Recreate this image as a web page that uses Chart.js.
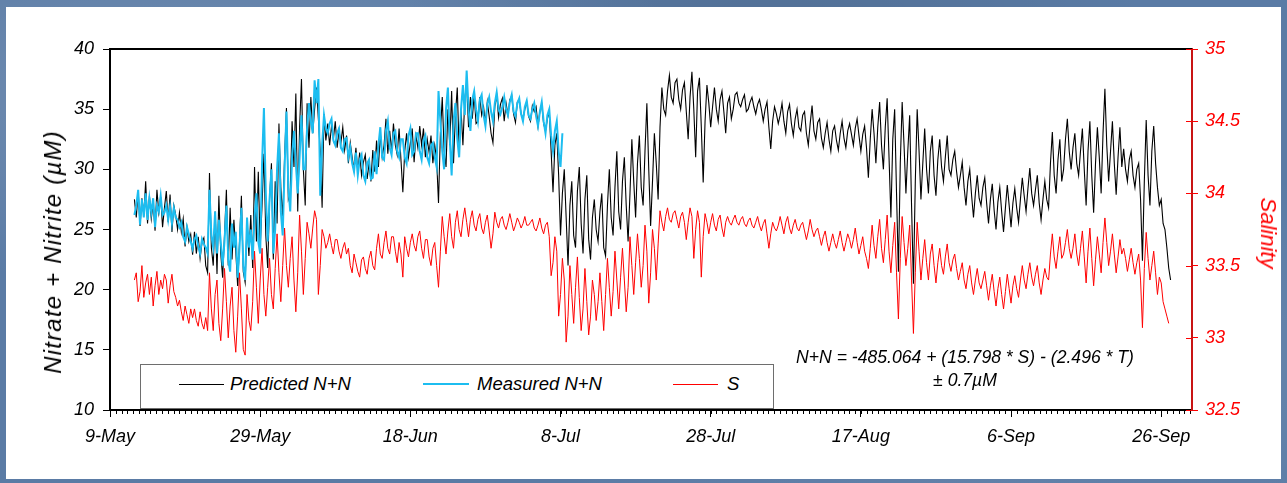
<!DOCTYPE html>
<html>
<head>
<meta charset="utf-8">
<script src="https://cdn.jsdelivr.net/npm/chart.js@4.4.1/dist/chart.umd.min.js"></script>
<style>
  html, body { margin:0; padding:0; width:1287px; height:483px; overflow:hidden; }
  body {
    background:
      radial-gradient(ellipse at 15% 20%, rgba(255,255,255,0.14), transparent 35%),
      radial-gradient(ellipse at 80% 75%, rgba(255,255,255,0.10), transparent 40%),
      radial-gradient(ellipse at 60% 10%, rgba(0,0,0,0.10), transparent 35%),
      #5a7ba5;
    font-family: 'Liberation Sans', Arial, sans-serif;
  }
  #panel { position:absolute; left:6px; top:7px; width:1275px; height:472px; background:#fff; }
  #c { position:absolute; left:0; top:0; }
  .txt { position:absolute; font-style:italic; white-space:nowrap; line-height:1; }
  #ytitle { font-size:24px; letter-spacing:1.2px; color:#000; left:53px; top:252px; transform:translate(-50%,-50%) rotate(-90deg); }
  #y2title { font-size:22px; color:#ff0000; left:1268px; top:233px; transform:translate(-50%,-50%) rotate(90deg); }
  #legend { position:absolute; left:140px; top:364px; width:632px; height:43px; border:1.5px solid #6e6e6e; background:#fff; }
  .lg-line { position:absolute; }
  .lg-text { position:absolute; font-size:18.5px; font-style:italic; line-height:1; transform:translateY(-50%); }
  .eq { position:absolute; font-size:17.6px; font-style:italic; line-height:1; transform:translate(-50%,-50%); white-space:nowrap; }
</style>
</head>
<body>
<div id="panel"></div>
<canvas id="c" width="1287" height="483"></canvas>
<div class="txt" id="ytitle">Nitrate + Nitrite (µM)</div>
<div class="txt" id="y2title">Salinity</div>
<div id="legend"></div>
<div class="eq" id="eq1" style="left:965px;top:358px;">N+N = -485.064 + (15.798 * S) - (2.496 * T)</div>
<div class="eq" id="eq2" style="left:965px;top:381px;">± 0.7µM</div>
<script>
// ---------------- DATA ----------------
// x values are days since 9-May; series sampled every quarter day (one row = 2 days)
const xTickLabels = ['9-May','29-May','18-Jun','8-Jul','28-Jul','17-Aug','6-Sep','26-Sep'];
const xTickDays = [0, 20, 40, 60, 80, 100, 120, 140];
const yTickValues = [10, 15, 20, 25, 30, 35, 40];
const y2TickValues = [32.5, 33, 33.5, 34, 34.5, 35];
const seriesStartDay = 3.25;
const seriesStepDays = 0.25;

const predicted = [
  27.5, 26.0, 28.2, 25.3, 27.6, 26.2, 29.0, 25.5,
  27.8, 25.9, 27.2, 24.9, 28.3, 26.4, 27.7, 25.2,
  26.8, 28.2, 25.6, 27.9, 24.8, 27.0, 26.2, 25.0,
  26.4, 24.8, 25.9, 23.6, 25.2, 24.0, 24.6, 22.9,
  24.8, 23.0, 24.4, 22.6, 23.9, 24.3, 22.0, 21.4,
  29.7, 23.5, 22.0, 26.5, 21.3, 27.8, 23.0, 21.0,
  24.5, 28.3, 22.0, 26.8, 22.5, 25.8, 23.2, 20.3,
  24.0, 27.8, 21.5, 20.6, 25.5, 22.8, 26.2, 21.8,
  30.2, 24.0, 29.8, 23.5, 27.0, 31.3, 24.5, 21.8,
  27.5, 30.5, 22.5, 29.0, 25.5, 33.8, 28.5, 26.0,
  31.0, 35.1, 27.5, 28.0, 34.0, 30.2, 36.3, 26.5,
  33.5, 37.5, 30.0, 27.0, 35.5, 31.8, 36.0, 33.0,
  35.0, 36.8, 34.2, 31.5, 26.8, 34.6, 32.4, 33.8,
  32.0, 33.6, 32.5, 34.0, 31.8, 33.2, 32.2, 33.5,
  31.6, 32.8, 30.5, 32.2, 31.0, 30.0, 31.8, 29.8,
  31.4, 29.5, 30.6, 31.2, 29.2, 30.5, 29.0, 31.6,
  29.8, 32.4, 30.2, 33.0, 31.0, 32.0, 34.2, 31.3,
  33.2, 31.5, 33.8, 32.0, 31.2, 33.4, 30.8, 28.1,
  31.5, 33.0, 31.0, 32.2, 33.4, 30.6, 32.8, 31.8,
  33.6, 32.0, 33.4, 31.0, 32.5, 31.4, 32.8, 30.5,
  32.0, 30.8, 27.2, 33.0, 36.0, 31.5, 30.2, 35.0,
  32.0, 36.5, 30.5, 34.5, 36.8, 31.5, 35.0, 32.0,
  35.8, 37.2, 33.5, 36.0, 34.2, 36.2, 33.8, 34.0,
  36.0, 34.5, 35.2, 33.8, 35.6, 34.4, 33.0, 32.2,
  35.2, 36.2, 34.3, 35.4, 35.9, 34.0, 35.5, 34.5,
  35.8, 36.1, 34.6, 33.9, 35.6, 35.8, 34.6, 34.2,
  35.0, 35.6, 34.4, 34.0, 35.3, 34.8, 35.2, 33.6,
  34.8, 35.4, 33.8, 33.2, 34.2, 34.8, 31.5, 28.1,
  32.0, 33.0, 29.5, 24.5, 28.0, 30.0, 26.0, 22.0,
  27.0, 29.0, 24.5, 23.5, 28.2, 30.2, 25.5, 23.0,
  27.5, 29.5, 24.2, 22.5, 26.0, 27.5, 25.0, 24.0,
  26.5, 28.0, 23.5, 22.8, 27.0, 30.0, 26.0, 24.5,
  28.5, 31.5, 26.5, 25.0, 29.0, 31.0, 27.0, 24.0,
  28.0, 32.5, 29.0, 26.0, 30.5, 32.8, 28.5, 27.0,
  31.5, 35.5, 30.0, 25.3, 29.0, 33.0, 30.5, 27.5,
  33.5, 36.8, 35.0, 34.5, 36.5, 37.8, 36.0, 35.5,
  37.2, 37.5, 35.8, 35.0, 36.6, 37.2, 34.8, 32.5,
  36.0, 38.1, 35.0, 31.0, 36.5, 37.6, 33.5, 28.9,
  34.0, 37.0, 35.5, 33.5, 35.2, 36.8, 35.0, 34.0,
  35.8, 36.5, 34.8, 33.0, 35.5, 36.0, 34.2, 35.0,
  36.2, 36.4, 35.5, 35.2, 35.8, 36.2, 34.8, 35.0,
  35.6, 36.0, 35.2, 34.6, 35.4, 35.8, 35.0, 34.0,
  35.0, 35.6, 33.5, 31.7, 34.0, 35.2, 34.6, 33.8,
  34.5, 35.5, 34.0, 33.0, 34.8, 35.4, 33.8, 32.8,
  34.2, 35.0, 33.5, 33.2, 34.5, 34.8, 33.0, 32.0,
  33.8, 35.3, 33.2, 32.5, 33.9, 34.2, 32.6, 31.8,
  33.0, 33.9, 32.5, 31.5, 33.2, 33.6, 32.4, 31.6,
  33.0, 34.0, 32.6, 31.8, 33.2, 33.8, 32.9, 32.0,
  33.4, 34.2, 32.8, 31.5, 32.9, 33.6, 31.8, 29.3,
  32.5, 35.0, 33.0, 30.5, 33.5, 35.6, 32.0, 30.0,
  33.5, 35.9, 31.0, 26.0, 32.5, 35.0, 28.0, 21.5,
  30.5, 35.6, 32.0, 28.0, 31.5, 34.5, 27.0, 20.5,
  29.0, 35.0, 31.5, 27.5, 30.5, 33.4, 30.0, 28.0,
  31.5, 32.8, 29.5, 27.8, 30.8, 32.5, 30.2, 29.0,
  31.0, 32.8, 30.0, 29.5, 30.8, 31.5, 29.8, 28.5,
  29.5, 30.6, 28.5, 27.0, 29.0, 30.0, 27.8, 26.0,
  28.0, 29.5, 27.6, 27.0, 28.5, 29.3, 27.2, 25.5,
  27.5, 28.8, 26.6, 25.0, 27.3, 28.5, 26.5, 24.8,
  26.8, 28.7, 27.0, 25.2, 27.2, 28.4, 26.8, 25.6,
  27.5, 29.3, 27.8, 26.5, 28.4, 30.1, 28.0, 27.0,
  28.3, 29.5, 27.2, 25.8, 27.5, 29.0, 27.5, 26.8,
  30.5, 33.1, 29.5, 28.0, 30.8, 32.5, 29.0, 30.0,
  32.5, 34.2, 31.5, 30.0, 31.8, 33.0, 30.5, 29.5,
  31.5, 33.4, 30.0, 27.0, 31.5, 34.0, 29.5, 26.4,
  30.5, 33.5, 31.0, 28.0, 33.0, 36.7, 32.0, 29.0,
  31.5, 34.0, 30.5, 27.9, 31.0, 33.5, 30.2, 31.7,
  30.0, 29.0, 30.8, 31.5, 29.5, 28.5, 30.0, 30.5,
  27.5, 22.4, 29.0, 34.1, 29.5, 27.0, 31.5, 33.6,
  30.5, 28.5, 27.0, 27.5, 25.5, 25.0, 23.5, 21.8,
  20.8
];

const measured = [
  26.2, 27.0, 28.3, 25.4, 27.5, 26.0, 28.0, 25.8,
  27.6, 26.4, 27.6, 25.2, 27.0, 26.5, 27.8, 26.2,
  26.4, 27.0, 25.8, 26.9, 25.5, 26.8, 26.0, 25.8,
  25.2, 25.6, 24.4, 24.0, 25.2, 24.6, 24.0, 23.4,
  24.2, 24.5, 23.6, 23.0, 24.2, 23.8, 23.5, 23.0,
  28.3, 24.5, 23.5, 26.5, 23.0, 25.8, 24.0, 22.0,
  24.0, 27.0, 22.5, 21.5, 25.5, 23.5, 24.8, 21.0,
  23.5, 26.8, 22.0, 20.8, 26.0, 23.5, 25.0, 22.5,
  26.0, 28.0, 24.0, 23.0, 30.5, 35.1, 28.0, 24.0,
  27.5, 30.0, 23.0, 25.0, 30.0, 33.0, 26.5, 24.5,
  30.0, 34.8, 28.5, 26.5, 31.0, 33.2, 30.5, 28.0,
  31.0, 34.5, 30.0, 30.0, 33.5, 35.5, 34.0, 33.0,
  37.4, 35.5, 37.5, 27.8, 32.0, 34.5, 33.4, 33.0,
  33.8, 34.2, 32.4, 32.0, 33.0, 33.4, 31.8, 31.5,
  32.5, 32.6, 31.0, 31.8, 30.5, 29.8, 31.4, 29.5,
  30.8, 31.2, 29.5, 29.0, 30.5, 30.8, 29.2, 29.3,
  31.5, 29.6, 32.0, 33.5, 31.0, 30.8, 33.2, 34.0,
  31.8, 31.2, 33.0, 33.2, 31.5, 31.0, 32.5, 32.5,
  31.0, 30.5, 32.8, 33.4, 31.2, 31.5, 33.0, 33.0,
  31.5, 30.8, 32.4, 32.8, 31.0, 30.5, 32.0, 32.2,
  31.0, 30.2, 36.5, 34.0, 31.5, 30.0, 35.0, 36.8,
  32.5, 29.5, 34.0, 35.5, 32.5, 31.0, 35.0, 37.0,
  34.5, 38.2, 35.0, 33.2, 35.8, 36.5, 35.0, 34.0,
  35.8, 36.2, 34.5, 33.6, 35.4, 36.0, 34.8, 34.0,
  35.5, 36.4, 35.0, 34.6, 35.2, 36.0, 35.0, 34.5,
  35.6, 36.2, 34.8, 34.4, 35.5, 35.9, 34.6, 34.0,
  35.2, 35.7, 34.5, 34.2, 35.0, 35.5, 34.4, 33.6,
  34.8, 35.6, 34.0, 33.0, 34.5, 35.0, 32.8, 31.5,
  33.2, 34.0, 31.5, 30.2, 33.0
];

const salinity = [
  33.40, 33.45, 33.25, 33.32, 33.50, 33.28, 33.38, 33.44,
  33.30, 33.42, 33.22, 33.36, 33.46, 33.30, 33.40, 33.34,
  33.44, 33.40, 33.24, 33.36, 33.44, 33.32, 33.28, 33.22,
  33.26, 33.18, 33.12, 33.22, 33.16, 33.10, 33.20, 33.14,
  33.20, 33.12, 33.08, 33.18, 33.10, 33.06, 33.14, 33.05,
  33.45, 33.20, 33.05, 33.30, 33.40, 33.10, 32.98, 33.20,
  33.48, 33.25, 33.00, 33.22, 33.35, 33.05, 32.90, 33.15,
  33.45, 33.20, 32.92, 32.88, 33.30, 33.12, 33.05, 33.25,
  33.60, 33.35, 33.10, 33.40, 33.62, 33.30, 33.15, 33.35,
  33.55, 33.30, 33.20, 33.48, 33.72, 33.45, 33.25, 33.50,
  33.76, 33.50, 33.35, 33.55, 33.70, 33.40, 33.18, 33.45,
  33.85, 33.60, 33.30, 33.55, 33.80, 33.72, 33.62, 33.76,
  33.88, 33.82, 33.30, 33.50, 33.75, 33.70, 33.62, 33.66,
  33.72, 33.64, 33.58, 33.68, 33.68, 33.60, 33.55, 33.62,
  33.66, 33.58, 33.62, 33.50, 33.45, 33.58, 33.52, 33.46,
  33.42, 33.54, 33.56, 33.48, 33.44, 33.55, 33.60, 33.50,
  33.47, 33.62, 33.72, 33.58, 33.55, 33.66, 33.74, 33.62,
  33.58, 33.70, 33.70, 33.60, 33.52, 33.66, 33.58, 33.42,
  33.70, 33.62, 33.56, 33.66, 33.72, 33.64, 33.60, 33.70,
  33.74, 33.62, 33.55, 33.68, 33.68, 33.56, 33.50, 33.62,
  33.66, 33.50, 33.35, 33.60, 33.84, 33.70, 33.58, 33.74,
  33.86, 33.70, 33.62, 33.80, 33.88, 33.75, 33.70, 33.82,
  33.90, 33.80, 33.70, 33.82, 33.88, 33.78, 33.74, 33.82,
  33.86, 33.76, 33.72, 33.80, 33.85, 33.74, 33.62, 33.72,
  33.87, 33.80, 33.76, 33.82, 33.84, 33.78, 33.75, 33.80,
  33.86, 33.80, 33.74, 33.78, 33.83, 33.80, 33.76, 33.79,
  33.84, 33.78, 33.78, 33.80, 33.82, 33.76, 33.74, 33.78,
  33.83, 33.76, 33.72, 33.78, 33.80, 33.70, 33.43, 33.52,
  33.70, 33.60, 33.15, 33.30, 33.55, 33.40, 32.97, 33.15,
  33.50, 33.30, 33.10, 33.35, 33.56, 33.28, 33.05, 33.20,
  33.48, 33.25, 33.02, 33.15, 33.40, 33.30, 33.12, 33.25,
  33.45, 33.25, 33.05, 33.30, 33.55, 33.35, 33.15, 33.32,
  33.60, 33.40, 33.20, 33.42, 33.62, 33.40, 33.18, 33.35,
  33.70, 33.50, 33.30, 33.52, 33.72, 33.55, 33.35, 33.50,
  33.78, 33.60, 33.24, 33.45, 33.75, 33.62, 33.40, 33.65,
  33.88, 33.80, 33.74, 33.84, 33.90, 33.82, 33.80, 33.86,
  33.88, 33.82, 33.76, 33.84, 33.87, 33.80, 33.68, 33.80,
  33.90, 33.84, 33.55, 33.75, 33.88, 33.80, 33.42, 33.70,
  33.86, 33.80, 33.72, 33.80, 33.86, 33.78, 33.74, 33.82,
  33.85, 33.76, 33.70, 33.80, 33.84, 33.80, 33.78, 33.82,
  33.85, 33.80, 33.78, 33.82, 33.84, 33.79, 33.77, 33.81,
  33.83, 33.78, 33.76, 33.80, 33.84, 33.78, 33.74, 33.79,
  33.82, 33.72, 33.62, 33.72, 33.80, 33.76, 33.74, 33.78,
  33.84, 33.78, 33.72, 33.80, 33.84, 33.76, 33.72, 33.78,
  33.82, 33.76, 33.74, 33.78, 33.80, 33.74, 33.68, 33.74,
  33.82, 33.75, 33.70, 33.74, 33.76, 33.70, 33.64, 33.70,
  33.74, 33.66, 33.60, 33.66, 33.72, 33.66, 33.62, 33.68,
  33.74, 33.66, 33.60, 33.66, 33.72, 33.68, 33.62, 33.68,
  33.76, 33.66, 33.58, 33.64, 33.70, 33.60, 33.55, 33.48,
  33.62, 33.78, 33.64, 33.55, 33.70, 33.82, 33.62, 33.52,
  33.68, 33.85, 33.60, 33.45, 33.64, 33.80, 33.45, 33.13,
  33.55, 33.84, 33.66, 33.50, 33.62, 33.78, 33.40, 33.03,
  33.45, 33.80, 33.60, 33.40, 33.55, 33.68, 33.52, 33.40,
  33.58, 33.65, 33.50, 33.38, 33.52, 33.62, 33.50, 33.44,
  33.56, 33.65, 33.52, 33.46, 33.54, 33.58, 33.48, 33.40,
  33.46, 33.52, 33.40, 33.34, 33.44, 33.50, 33.38, 33.30,
  33.40, 33.48, 33.38, 33.34, 33.40, 33.46, 33.36, 33.26,
  33.36, 33.44, 33.32, 33.22, 33.34, 33.42, 33.30, 33.20,
  33.32, 33.44, 33.34, 33.24, 33.36, 33.43, 33.34, 33.28,
  33.40, 33.50, 33.40, 33.34, 33.44, 33.52, 33.42, 33.36,
  33.44, 33.50, 33.38, 33.30, 33.40, 33.48, 33.42, 33.40,
  33.58, 33.72, 33.56, 33.48, 33.60, 33.70, 33.55, 33.58,
  33.66, 33.75, 33.62, 33.55, 33.62, 33.72, 33.58, 33.50,
  33.62, 33.74, 33.56, 33.38, 33.60, 33.76, 33.55, 33.36,
  33.54, 33.70, 33.58, 33.45, 33.66, 33.83, 33.66, 33.50,
  33.60, 33.72, 33.58, 33.45, 33.56, 33.68, 33.58, 33.62,
  33.55, 33.46, 33.54, 33.62, 33.52, 33.44, 33.52, 33.58,
  33.40, 33.07, 33.48, 33.73, 33.55, 33.40, 33.50, 33.60,
  33.45, 33.30, 33.42, 33.38, 33.25, 33.20, 33.15, 33.10
];

const seriesLabels = ['Predicted N+N', 'Measured N+N', 'S'];
const seriesColors = ['#000000', '#1cbdf0', '#ff0000'];

// ---------------- CHART ----------------
const toPoints = arr => arr.map((v, i) => ({ x: seriesStartDay + i * seriesStepDays, y: v }));
const minorStep = 20 / 26;
const FONT = "'Liberation Sans', Arial, sans-serif";

const extras = {
  id: 'extras',
  afterDraw(chart) {
    const { ctx, chartArea, scales } = chart;
    const x = scales.x, y2 = scales.y2;
    ctx.save();
    ctx.strokeStyle = '#000'; ctx.lineWidth = 1;
    ctx.beginPath();
    for (let k = 0; k * minorStep <= x.max + 1e-9; k++) {
      const px = Math.round(x.getPixelForValue(k * minorStep)) + 0.5;
      ctx.moveTo(px, chartArea.bottom); ctx.lineTo(px, chartArea.bottom + 4);
    }
    ctx.stroke();
    ctx.lineWidth = 2; ctx.strokeStyle = '#000';
    ctx.beginPath(); ctx.moveTo(chartArea.left - 1, chartArea.top); ctx.lineTo(chartArea.right, chartArea.top); ctx.stroke();
    ctx.strokeStyle = '#ff0000'; ctx.lineWidth = 1;
    ctx.beginPath();
    y2.ticks.forEach(t => {
      const py = Math.round(y2.getPixelForValue(t.value)) + 0.5;
      ctx.moveTo(chartArea.right - 6, py); ctx.lineTo(chartArea.right, py);
    });
    ctx.stroke();
    ctx.restore();
  }
};

new Chart(document.getElementById('c'), {
  type: 'line',
  data: {
    datasets: [
      { label: seriesLabels[0], data: toPoints(predicted), borderColor: seriesColors[0], borderWidth: 1.1, pointRadius: 0, tension: 0, yAxisID: 'y', order: 1 },
      { label: seriesLabels[1], data: toPoints(measured), borderColor: seriesColors[1], borderWidth: 2, pointRadius: 0, tension: 0, yAxisID: 'y', order: 0 },
      { label: seriesLabels[2], data: toPoints(salinity), borderColor: seriesColors[2], borderWidth: 1, pointRadius: 0, tension: 0, yAxisID: 'y2', order: 2 }
    ]
  },
  options: {
    responsive: false,
    animation: false,
    devicePixelRatio: 1,
    layout: { padding: { top: 49, left: 0, right: 0, bottom: 0 } },
    plugins: { legend: { display: false }, tooltip: { enabled: false } },
    scales: {
      x: {
        type: 'linear', min: 0, max: 144.1,
        afterFit: s => { s.height = 73; },
        afterBuildTicks: s => { s.ticks = xTickDays.map(v => ({ value: v })); },
        ticks: {
          autoSkip: false, maxRotation: 0, padding: 9, color: '#000',
          font: { family: FONT, size: 18, style: 'italic' },
          callback: v => { const i = xTickDays.indexOf(v); return i >= 0 ? xTickLabels[i] : ''; }
        },
        grid: { drawOnChartArea: false, drawTicks: true, tickLength: 7, tickColor: '#000', tickWidth: 1 },
        border: { display: true, color: '#000', width: 2 }
      },
      y: {
        position: 'left', min: 10, max: 40,
        afterFit: s => { s.width = 110; },
        afterBuildTicks: s => { s.ticks = yTickValues.map(v => ({ value: v })); },
        ticks: { padding: 9, color: '#000', font: { family: FONT, size: 18, style: 'italic' }, callback: v => String(v) },
        grid: { drawOnChartArea: false, drawTicks: true, tickLength: 7, tickColor: '#000', tickWidth: 1 },
        border: { display: true, color: '#000', width: 2 }
      },
      y2: {
        position: 'right', min: 32.5, max: 35,
        afterFit: s => { s.width = 95; },
        afterBuildTicks: s => { s.ticks = y2TickValues.map(v => ({ value: v })); },
        ticks: { padding: 7, color: '#ff0000', font: { family: FONT, size: 18, style: 'italic' }, callback: v => String(v) },
        grid: { drawOnChartArea: false, drawTicks: true, tickLength: 6, tickColor: '#ff0000', tickWidth: 1 },
        border: { display: true, color: '#c81414', width: 2 }
      }
    }
  },
  plugins: [extras]
});

// ---------------- LEGEND (HTML) ----------------
const legend = document.getElementById('legend');
const legendItems = [
  { lineLeft: 38, lineW: 45, textLeft: 89, w: 1 },
  { lineLeft: 282, lineW: 46, textLeft: 336, w: 2 },
  { lineLeft: 532, lineW: 45, textLeft: 586, w: 1 }
];
legendItems.forEach((it, i) => {
  const ln = document.createElement('div');
  ln.className = 'lg-line';
  ln.style.cssText = `left:${it.lineLeft}px;top:${19 - it.w / 2}px;width:${it.lineW}px;height:${it.w}px;background:${seriesColors[i]};`;
  legend.appendChild(ln);
  const tx = document.createElement('div');
  tx.className = 'lg-text';
  tx.style.cssText = `left:${it.textLeft}px;top:19px;`;
  tx.textContent = seriesLabels[i];
  legend.appendChild(tx);
});
</script>
</body>
</html>
